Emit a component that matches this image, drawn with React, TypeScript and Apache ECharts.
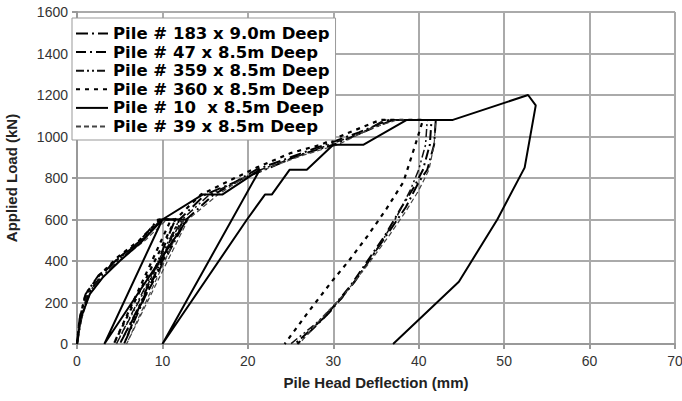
import React, { useEffect, useRef } from "react";
import * as echarts from "echarts";

// Pile head deflection (mm), applied load (kN) pairs for each pile test
const pile183: number[][] = [
  [0, 0], [0.3, 120], [1, 240], [2.5, 330], [4.5, 400], [7, 480], [9.5, 600], [11.5, 600], [5.5, 0],
  [12, 600], [15, 720], [18.5, 780], [21, 840], [25, 900], [29, 960], [33, 1020], [36.5, 1080], [42, 1080],
  [41.8, 960], [41, 840], [40, 780], [38.5, 660], [36.5, 540], [34.5, 420], [32.5, 300], [29.5, 150], [25.8, 0],
];
const pile47: number[][] = [
  [0, 0], [0.5, 120], [1.3, 240], [3, 340], [5, 420], [7.5, 500], [10, 600], [12.5, 600], [5, 0],
  [12.8, 600], [16, 720], [19.5, 800], [22, 840], [26, 910], [30, 960], [34, 1030], [37, 1080], [41.5, 1080],
  [41.3, 960], [40.5, 840], [39.5, 760], [38, 660], [36, 520], [34, 400], [32, 280], [29, 130], [25.5, 0],
];
const pile359: number[][] = [
  [0, 0], [0.4, 120], [1.2, 240], [2.8, 320], [5, 410], [7.2, 480], [9.8, 600], [12, 600], [4.6, 0],
  [12.3, 600], [15.5, 720], [19, 790], [21.5, 840], [25.5, 900], [29.5, 960], [33.5, 1020], [36, 1080], [41, 1080],
  [40.8, 960], [40, 840], [39, 740], [37.5, 620], [35.5, 480], [33.5, 360], [31, 220], [28, 100], [25, 0],
];
const pile360: number[][] = [
  [0, 0], [0.3, 120], [1, 240], [2.6, 330], [4.8, 420], [7.3, 500], [9.7, 600], [11, 600], [4.3, 0],
  [11.5, 600], [14.5, 720], [18, 790], [21, 850], [25, 920], [28.5, 960], [32.5, 1030], [35.5, 1080], [40.5, 1080],
  [39.6, 960], [38.2, 780], [36.2, 650], [34, 520], [31.8, 400], [29.8, 300], [27, 150], [24.3, 0],
];
const pile10: number[][] = [
  [0, 0], [0.4, 120], [1.5, 240], [3, 320], [5, 400], [7.5, 490], [10, 600], [12.9, 600], [3.2, 0],
  [10, 600], [14.7, 720], [17, 720], [21.4, 840], [10, 0], [19.9, 600], [22, 720], [22.8, 720],
  [24.9, 840], [26.9, 840], [30, 960], [33.5, 960], [38.6, 1080], [44, 1080], [52.8, 1200], [53.7, 1150],
  [52.4, 850], [49.2, 600], [44.7, 300], [37, 0],
];
const pile39: number[][] = [
  [0, 0], [0.5, 120], [1.5, 240], [3.2, 330], [5.5, 420], [8, 500], [10.5, 600], [12.5, 600], [5.8, 0],
  [13, 600], [16.5, 720], [19.5, 800], [22.5, 850], [26.5, 910], [30.5, 960], [34.5, 1040], [37.5, 1080], [42, 1080],
  [41.8, 960], [41.2, 840], [40, 740], [38.5, 640], [36.5, 520], [34, 380], [31.5, 250], [28.5, 120], [26, 0],
];

const seriesNames = [
  "Pile # 183 x 9.0m Deep",
  "Pile # 47 x 8.5m Deep",
  "Pile # 359 x 8.5m Deep",
  "Pile # 360 x 8.5m Deep",
  "Pile # 10  x 8.5m Deep",
  "Pile # 39 x 8.5m Deep",
];
const seriesData = [pile183, pile47, pile359, pile360, pile10, pile39];
const xTicks = { min: 0, max: 70, interval: 10 };
const yTicks = { min: 0, max: 1600, interval: 200 };

const styles: any[] = [
  { color: "#000", width: 2, type: [12, 4, 2, 4] },
  { color: "#000", width: 2, type: [10, 4, 2, 4] },
  { color: "#111", width: 1.5, type: [8, 3, 2, 3, 2, 3] },
  { color: "#000", width: 2.2, type: [4, 5] },
  { color: "#000", width: 2, type: "solid" },
  { color: "#444", width: 1.2, type: [5, 3] },
];

export default function App() {
  const ref = useRef<HTMLDivElement>(null);
  useEffect(() => {
    if (!ref.current) return;
    const chart = echarts.init(ref.current, undefined, { renderer: "svg" });
    const font = "Liberation Sans, Arial, sans-serif";
    chart.setOption({
      animation: false,
      backgroundColor: "#fff",
      grid: { left: 77, right: 7, top: 12, bottom: 57, containLabel: false, outerBoundsMode: "none" },
      legend: {
        orient: "vertical",
        left: 72,
        top: 18,
        padding: [7, 6, 5, 3],
        itemGap: 1.6,
        itemWidth: 32,
        itemHeight: 14,
        backgroundColor: "#fff",
        borderColor: "#999",
        borderWidth: 1,
        itemStyle: { opacity: 0 },
        textStyle: { fontFamily: "DejaVu Sans, sans-serif", fontSize: 16.5, fontWeight: "bold", color: "#000", lineHeight: 17 },
        data: seriesNames,
      },
      xAxis: {
        type: "value",
        ...xTicks,
        name: "Pile Head Deflection (mm)",
        nameLocation: "middle",
        nameGap: 31,
        nameTextStyle: { fontFamily: font, fontSize: 15, fontWeight: "bold", color: "#222" },
        axisLine: { show: true, onZero: false, lineStyle: { color: "#999", width: 2 } },
        axisTick: { show: true, length: 5, lineStyle: { color: "#999", width: 2 } },
        axisLabel: { fontFamily: font, fontSize: 14, color: "#333", margin: 10 },
        splitLine: { show: true, lineStyle: { color: "#aaa", width: 2 } },
      },
      yAxis: {
        type: "value",
        ...yTicks,
        name: "Applied Load (kN)",
        nameLocation: "middle",
        nameGap: 58,
        nameRotate: 90,
        nameTextStyle: { fontFamily: font, fontSize: 15, fontWeight: "bold", color: "#222" },
        axisLine: { show: true, onZero: false, lineStyle: { color: "#999", width: 2 } },
        axisTick: { show: true, length: 5, lineStyle: { color: "#999", width: 2 } },
        axisLabel: { fontFamily: font, fontSize: 14, color: "#333", margin: 9, formatter: (v: number) => String(v) },
        splitLine: { show: true, lineStyle: { color: "#aaa", width: 2 } },
      },
      series: seriesData.map((d, i) => ({
        name: seriesNames[i],
        type: "line",
        data: d,
        showSymbol: false,
        symbol: "none",
        lineStyle: styles[i],
        itemStyle: { color: styles[i].color },
        z: i === 4 ? 3 : 2,
      })),
    });
    return () => chart.dispose();
  }, []);
  return (
    <div
      ref={ref}
      style={{ position: "fixed", left: 0, top: 0, width: 682, height: 401 }}
    />
  );
}
